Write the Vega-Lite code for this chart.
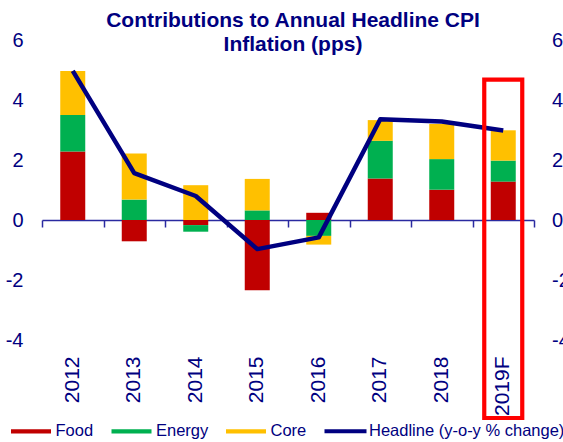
{
  "$schema": "https://vega.github.io/schema/vega-lite/v6.json",
  "width": 492,
  "height": 300,
  "autosize": {"type": "none"},
  "padding": {"left": 42, "top": 40, "right": 29, "bottom": 102},
  "background": "white",
  "config": {"view": {"stroke": null}, "font": "Liberation Sans"},
  "title": {
    "text": ["Contributions to Annual Headline CPI", "Inflation (pps)"],
    "font": "Liberation Sans",
    "fontSize": 21,
    "fontWeight": "bold",
    "color": "#000080",
    "anchor": "middle",
    "frame": "group",
    "offset": -25,
    "dx": 5,
    "lineHeight": 24.5
  },
  "datasets": {
    "bars": [
      {"year": "2012", "component": "Food", "value": 2.28},
      {"year": "2012", "component": "Energy", "value": 1.22},
      {"year": "2012", "component": "Core", "value": 1.47},
      {"year": "2013", "component": "Food", "value": -0.71},
      {"year": "2013", "component": "Energy", "value": 0.68},
      {"year": "2013", "component": "Core", "value": 1.54},
      {"year": "2014", "component": "Food", "value": -0.17},
      {"year": "2014", "component": "Energy", "value": -0.22},
      {"year": "2014", "component": "Core", "value": 1.16},
      {"year": "2015", "component": "Food", "value": -2.34},
      {"year": "2015", "component": "Energy", "value": 0.32},
      {"year": "2015", "component": "Core", "value": 1.05},
      {"year": "2016", "component": "Food", "value": 0.24},
      {"year": "2016", "component": "Energy", "value": -0.53},
      {"year": "2016", "component": "Core", "value": -0.29},
      {"year": "2017", "component": "Food", "value": 1.38},
      {"year": "2017", "component": "Energy", "value": 1.26},
      {"year": "2017", "component": "Core", "value": 0.69},
      {"year": "2018", "component": "Food", "value": 1.01},
      {"year": "2018", "component": "Energy", "value": 1.02},
      {"year": "2018", "component": "Core", "value": 1.17},
      {"year": "2019F", "component": "Food", "value": 1.28},
      {"year": "2019F", "component": "Energy", "value": 0.70},
      {"year": "2019F", "component": "Core", "value": 1.01}
    ],
    "headline": [
      {"year": "2012", "value": 4.97},
      {"year": "2013", "value": 1.56},
      {"year": "2014", "value": 0.8},
      {"year": "2015", "value": -0.97},
      {"year": "2016", "value": -0.58},
      {"year": "2017", "value": 3.36},
      {"year": "2018", "value": 3.28},
      {"year": "2019F", "value": 2.98}
    ]
  },
  "layer": [
    {
      "data": {"name": "bars"},
      "mark": {"type": "bar", "width": 25},
      "encoding": {
        "x": {
          "field": "year",
          "type": "nominal",
          "scale": {"domain": ["2012", "2013", "2014", "2015", "2016", "2017", "2018", "2019F"], "paddingInner": 0, "paddingOuter": 0},
          "axis": {
            "orient": "bottom",
            "title": null,
            "domain": false,
            "ticks": false,
            "tickSize": 0,
            "labelAngle": 270,
            "labelAlign": "right",
            "labelBaseline": "middle",
            "labelFontSize": 21,
            "labelPadding": 16,
            "labelColor": "#000080",
            "labelFont": "Liberation Sans"
          }
        },
        "y": {
          "field": "value",
          "type": "quantitative",
          "scale": {"domain": [-4, 6], "nice": false, "zero": false},
          "axis": {
            "orient": "left",
            "title": null,
            "values": [-4, -2, 0, 2, 4, 6],
            "labelExpr": "datum.value < 0 ? '-' + abs(datum.value) : '' + datum.value",
            "grid": false,
            "domain": false,
            "ticks": false,
            "tickSize": 0,
            "labelFontSize": 20,
            "labelPadding": 19,
            "labelColor": "#000080",
            "labelFont": "Liberation Sans"
          }
        },
        "color": {
          "field": "component",
          "type": "nominal",
          "scale": {"domain": ["Food", "Energy", "Core", "Headline (y-o-y % change)"], "range": ["#C00000", "#00B050", "#FFC000", "#000080"]},
          "legend": {
            "orient": "none",
            "legendX": -31,
            "legendY": 381,
            "direction": "horizontal",
            "columns": 4,
            "columnPadding": 17.5,
            "title": null,
            "padding": 0,
            "symbolSize": 400,
            "symbolType": "M-1,-0.2125H3V0.2125H-1Z",
            "symbolStrokeWidth": 0,
            "labelOffset": 24.5,
            "labelFontSize": 16.5,
            "labelColor": "#000080",
            "labelFont": "Liberation Sans",
            "labelLimit": 300,
            "encode": {
              "symbols": {
                "update": {
                  "shape": {"signal": "datum.value === 'Headline (y-o-y % change)' ? 'M-1,-0.2H3.2V0.2H-1Z' : 'M-1,-0.2125H3V0.2125H-1Z'"},
                  "fill": {"signal": "scale('color', datum.value)"},
                  "strokeWidth": {"value": 0},
                  "opacity": {"value": 1}
                }
              }
            }
          }
        },
        "order": {"field": "component", "sort": "descending"}
      }
    },
    {
      "data": {"name": "headline"},
      "mark": {"type": "line", "strokeWidth": 4.5, "strokeJoin": "round"},
      "encoding": {
        "x": {
          "field": "year",
          "type": "nominal",
          "axis": {
            "orient": "bottom",
            "offset": -120,
            "title": null,
            "labels": false,
            "domain": true,
            "domainColor": "#2a2aa0",
            "domainWidth": 1.5,
            "ticks": true,
            "tickBand": "extent",
            "tickSize": 7,
            "tickColor": "#2a2aa0",
            "tickWidth": 1.5
          }
        },
        "y": {
          "field": "value",
          "type": "quantitative",
          "axis": {
            "orient": "right",
            "title": null,
            "values": [-4, -2, 0, 2, 4, 6],
            "labelExpr": "datum.value < 0 ? '-' + abs(datum.value) : '' + datum.value",
            "grid": false,
            "domain": false,
            "ticks": false,
            "tickSize": 0,
            "labelFontSize": 20,
            "labelPadding": 17.5,
            "labelColor": "#000080",
            "labelFont": "Liberation Sans"
          }
        },
        "color": {"datum": "Headline (y-o-y % change)"}
      }
    },
    {
      "data": {"values": [{}]},
      "mark": {"type": "bar", "filled": false, "fill": null, "stroke": "#FF0000", "strokeWidth": 4.2, "width": 38},
      "encoding": {
        "x": {"datum": "2019F", "axis": null},
        "y": {"datum": 4.68, "axis": null},
        "y2": {"datum": -6.6}
      }
    }
  ],
  "resolve": {"axis": {"x": "independent", "y": "independent"}}
}
